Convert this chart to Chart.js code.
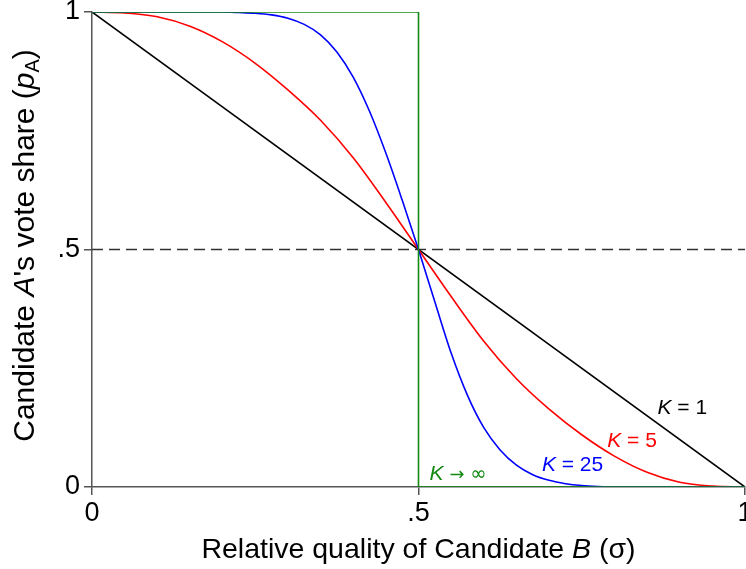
<!DOCTYPE html>
<html>
<head>
<meta charset="utf-8">
<script src="https://cdn.jsdelivr.net/npm/chart.js@4/dist/chart.umd.min.js"></script>
<style>
  html, body { margin: 0; padding: 0; background: #fff; }
  #wrap { width: 746px; height: 569px; }
</style>
</head>
<body>
<div id="wrap"><canvas id="c" width="746" height="569"></canvas></div>
<script>
// values
const sigmaK1 = [0, 1];
const shareK1 = [1, 0];

const sigmaK5 = [0, 0.05, 0.1, 0.15, 0.2, 0.25, 0.3, 0.35, 0.4, 0.45, 0.5, 0.55, 0.6, 0.65, 0.7, 0.75, 0.8, 0.85, 0.9, 0.95, 1];
const shareK5 = [1, 0.998, 0.99, 0.97, 0.937, 0.892, 0.836, 0.772, 0.693, 0.599, 0.5, 0.401, 0.307, 0.228, 0.164, 0.11, 0.065, 0.031, 0.01, 0.002, 0];

const sigmaK25 = [0, 0.1, 0.2, 0.225, 0.25, 0.275, 0.3, 0.325, 0.35, 0.375, 0.4, 0.425, 0.45, 0.475, 0.5, 0.525, 0.55, 0.575, 0.6, 0.625, 0.65, 0.675, 0.7, 0.725, 0.75, 0.775, 0.8, 0.9, 1];
const shareK25 = [1, 1, 1, 0.999, 0.9975, 0.994, 0.987, 0.974, 0.952, 0.916, 0.863, 0.791, 0.703, 0.604, 0.5, 0.39, 0.282, 0.193, 0.125, 0.078, 0.046, 0.026, 0.014, 0.007, 0.003, 0.001, 0, 0, 0];

const sigmaInf = [0, 0.5, 0.5, 1];
const shareInf = [1, 1, 0, 0];

const sigmaHalf = [0, 1];
const shareHalf = [0.5, 0.5];

const tickVals = [0, 0.5, 1];
const tickText = ['0', '.5', '1'];

const FONT = '"Liberation Sans", Arial, Helvetica, sans-serif';
const SYMFONT = '"DejaVu Sans", sans-serif';

function pts(xs, ys) {
  return xs.map((x, i) => ({ x: x, y: ys[i] }));
}

function tickLabel(v) {
  const i = tickVals.findIndex(t => Math.abs(t - v) < 1e-9);
  return i >= 0 ? tickText[i] : '';
}

// text made of plain / italic / subscript pieces
function setFont(ctx, p, size) {
  const s = p.sub ? size * 0.66 : size * (p.scale || 1);
  ctx.font = (p.it ? 'italic ' : '') + s + 'px ' + (p.fam || FONT);
}
function drawRich(ctx, parts, x, y, size, color, align) {
  let w = 0;
  parts.forEach(p => { setFont(ctx, p, size); w += ctx.measureText(p.t).width; });
  let cx = align === 'center' ? x - w / 2 : (align === 'right' ? x - w : x);
  ctx.fillStyle = color;
  ctx.textAlign = 'left';
  ctx.textBaseline = 'alphabetic';
  parts.forEach(p => {
    setFont(ctx, p, size);
    ctx.fillText(p.t, cx, p.sub ? y + size * 0.16 : y);
    cx += ctx.measureText(p.t).width;
  });
}

const textPlugin = {
  id: 'texts',
  afterDraw(chart) {
    const ctx = chart.ctx;
    const xs = chart.scales.x, ys = chart.scales.y;
    const area = chart.chartArea;
    ctx.save();
    // axis titles
    drawRich(ctx, [{ t: 'Relative quality of Candidate ' }, { t: 'B', it: true }, { t: ' (σ)' }],
      (area.left + area.right) / 2, 558, 28.5, '#000', 'center');
    ctx.save();
    ctx.translate(34, (area.top + area.bottom) / 2 - 4);
    ctx.rotate(-Math.PI / 2);
    drawRich(ctx, [{ t: 'Candidate ' }, { t: 'A', it: true }, { t: "'s vote share (" }, { t: 'p', it: true }, { t: 'A', sub: true }, { t: ')' }],
      0, 0, 30, '#000', 'center');
    ctx.restore();
    // curve labels
    drawRich(ctx, [{ t: 'K', it: true }, { t: ' = 1' }], xs.getPixelForValue(0.866), ys.getPixelForValue(0.154), 21, '#000', 'left');
    drawRich(ctx, [{ t: 'K', it: true }, { t: ' = 5' }], xs.getPixelForValue(0.789), ys.getPixelForValue(0.084), 21, '#ff0000', 'left');
    drawRich(ctx, [{ t: 'K', it: true }, { t: ' = 25' }], xs.getPixelForValue(0.689), ys.getPixelForValue(0.034), 21, '#0000ff', 'left');
    drawRich(ctx, [{ t: 'K', it: true }, { t: ' ' }, { t: '→', fam: SYMFONT, scale: 0.85 }, { t: ' ' }, { t: '∞', fam: SYMFONT, scale: 0.95 }],
      xs.getPixelForValue(0.517), ys.getPixelForValue(0.014), 21, '#138a13', 'left');
    ctx.restore();
  }
};

const lineBase = { pointRadius: 0, borderWidth: 1.6, fill: false };

new Chart(document.getElementById('c'), {
  type: 'line',
  data: {
    datasets: [
      Object.assign({ label: 'K → ∞', data: pts(sigmaInf, shareInf), borderColor: '#138a13', tension: 0, order: 0 }, lineBase),
      Object.assign({ label: 'K = 25', data: pts(sigmaK25, shareK25), borderColor: '#0000ff', cubicInterpolationMode: 'monotone', order: 1 }, lineBase),
      Object.assign({ label: 'K = 5', data: pts(sigmaK5, shareK5), borderColor: '#ff0000', cubicInterpolationMode: 'monotone', order: 2 }, lineBase),
      Object.assign({ label: 'K = 1', data: pts(sigmaK1, shareK1), borderColor: '#000000', tension: 0, order: 3 }, lineBase),
      Object.assign({ label: 'half', data: pts(sigmaHalf, shareHalf), borderColor: '#333333', borderDash: [11, 6], tension: 0, order: 4 }, lineBase)
    ]
  },
  options: {
    responsive: false,
    animation: false,
    layout: { padding: { top: 12, right: 1, left: 0, bottom: 0 } },
    plugins: { legend: { display: false }, tooltip: { enabled: false } },
    scales: {
      x: {
        type: 'linear', min: 0, max: 1,
        grid: { drawOnChartArea: false, drawTicks: true, tickLength: 8, color: '#555', lineWidth: 1.5 },
        border: { display: true, color: '#555', width: 1.5 },
        ticks: {
          stepSize: 0.5, padding: 2, color: '#000', maxRotation: 0,
          font: { family: FONT, size: 27 },
          callback: v => tickLabel(v)
        },
        afterFit: s => { s.height = 82; s.paddingLeft = 0; s.paddingRight = 0; }
      },
      y: {
        type: 'linear', min: 0, max: 1,
        grid: { drawOnChartArea: false, drawTicks: true, tickLength: 8, color: '#555', lineWidth: 1.5 },
        border: { display: true, color: '#555', width: 1.5 },
        ticks: {
          stepSize: 0.5, padding: 4, color: '#000',
          font: { family: FONT, size: 27 },
          callback: v => tickLabel(v)
        },
        afterFit: s => { s.width = 92; s.paddingTop = 0; s.paddingBottom = 0; }
      }
    }
  },
  plugins: [textPlugin]
});
</script>
</body>
</html>
